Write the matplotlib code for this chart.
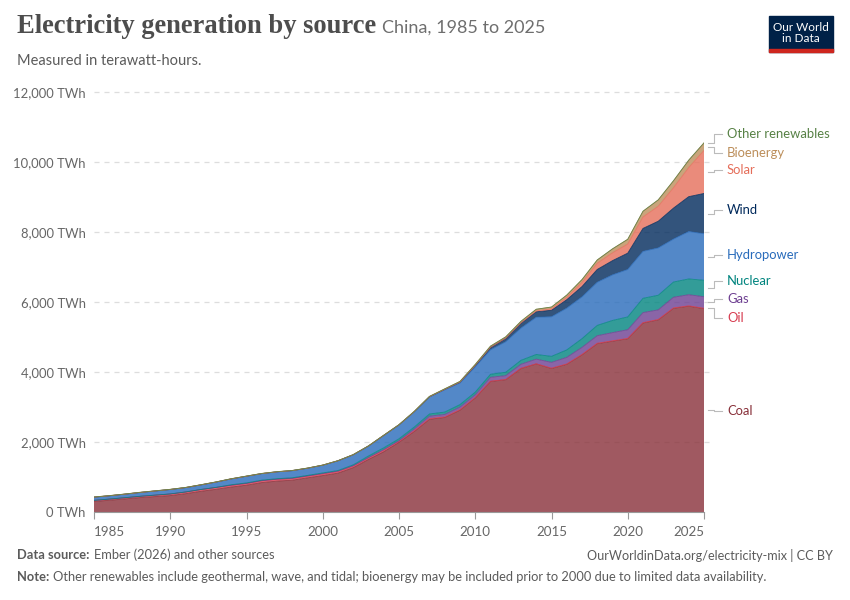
import numpy as np
import matplotlib.pyplot as plt
from matplotlib.patches import Rectangle

# data (TWh), China 1985-2025
years = list(range(1985, 2026))

coal = [300, 335, 372, 410, 440, 468, 522, 590, 648, 712, 765, 840, 882, 908, 975,
        1040, 1110, 1265, 1500, 1720, 1990, 2300, 2650, 2700, 2910, 3260, 3730, 3780,
        4100, 4230, 4100, 4220, 4490, 4810, 4880, 4950, 5400, 5490, 5820, 5880, 5810]
oil = [30, 32, 34, 36, 40, 45, 47, 50, 52, 50, 49, 51, 50, 48, 46,
       46, 44, 40, 38, 42, 24, 22, 20, 17, 15, 13, 8, 6,
       6, 5, 10, 10, 11, 12, 12, 11, 11, 11, 11, 11, 11]
gas = [2, 2, 2, 2, 2, 3, 3, 3, 3, 4, 4, 5, 6, 8, 10,
       13, 15, 18, 20, 22, 25, 50, 69, 70, 74, 77, 111, 110,
       116, 133, 166, 188, 203, 215, 233, 247, 287, 274, 305, 317, 330]
nuclear = [0, 0, 0, 0, 0, 0, 0, 0, 0, 13, 13, 14, 14, 14, 15,
           17, 17, 25, 43, 50, 53, 55, 62, 68, 70, 74, 86, 97,
           112, 133, 171, 213, 248, 295, 348, 366, 408, 418, 435, 451, 470]
hydro = [92, 94, 100, 109, 118, 127, 125, 131, 152, 167, 191, 187, 196, 204, 205,
         222, 277, 288, 284, 354, 397, 436, 486, 637, 616, 722, 699, 872,
         921, 1064, 1130, 1193, 1194, 1232, 1302, 1355, 1340, 1352, 1226, 1354, 1330]
wind = [0, 0, 0, 0, 0, 0, 0, 0, 0, 0, 0, 0, 0, 0, 0,
        1, 1, 1, 1, 1, 2, 4, 6, 13, 27, 45, 70, 96,
        141, 156, 186, 241, 295, 366, 406, 467, 656, 763, 886, 997, 1150]
solar = [0, 0, 0, 0, 0, 0, 0, 0, 0, 0, 0, 0, 0, 0, 0,
         0, 0, 0, 0, 0, 0, 0, 0, 0, 0, 1, 3, 4,
         8, 24, 40, 67, 118, 177, 225, 261, 327, 428, 584, 834, 1230]
bioenergy = [5, 5, 5, 5, 5, 5, 5, 5, 5, 5, 5, 5, 5, 5, 5,
             2, 3, 3, 4, 5, 5, 8, 11, 14, 20, 25, 32, 40,
             45, 48, 53, 65, 81, 94, 112, 135, 164, 182, 197, 208, 215]
other_renewables = [0.1] * 41

sources = ["Coal", "Oil", "Gas", "Nuclear", "Hydropower", "Wind", "Solar",
           "Bioenergy", "Other renewables"]
series = [coal, oil, gas, nuclear, hydro, wind, solar, bioenergy, other_renewables]
colors = ["#883039", "#D73C50", "#6D3E91", "#00847E", "#286BBB", "#00295B",
          "#E56E5A", "#BC8E5A", "#578145"]
# label y positions (layout only, TWh units)
label_y = [2890, 5540, 6085, 6600, 7345, 8630, 9770, 10255, 10800]

plt.rcParams['font.family'] = ['Lato', 'DejaVu Sans']
fig = plt.figure(figsize=(8.5, 6), dpi=100)
ax = fig.add_axes([94 / 850, 1 - 512 / 600, (704 - 94) / 850, (512 - 92) / 600])

data = np.array(series, dtype=float)
ax.stackplot(years, data, colors=colors, alpha=0.8, linewidth=0)
cum = np.cumsum(data, axis=0)
for i, c in enumerate(colors):
    ax.plot(years, cum[i], color=c, lw=0.6, alpha=0.85)

ax.set_xlim(1985, 2025)
ax.set_ylim(0, 12000)

for s in ["top", "right", "left"]:
    ax.spines[s].set_visible(False)
ax.spines["bottom"].set_color("#999999")
ax.spines["bottom"].set_linewidth(0.8)

yt = [0, 2000, 4000, 6000, 8000, 10000, 12000]
ax.set_yticks(yt)
ax.set_yticklabels([f"{v:,} TWh" for v in yt])
ax.tick_params(axis="y", length=0, pad=6, labelsize=9.4, labelcolor="#666666")
for v in yt[1:]:
    ax.axhline(v, color="#dddddd", lw=0.9, ls=(0, (4, 4)), zorder=0, xmax=1.01,
               clip_on=False)

xt = list(range(1985, 2026, 5))
ax.set_xticks(xt)
ax.set_xticklabels([str(v) for v in xt])
ax.tick_params(axis="x", length=5, color="#999999", pad=5, labelsize=9.6,
               labelcolor="#666666")
xl = ax.get_xticklabels()
xl[0].set_horizontalalignment("left")
xl[-1].set_horizontalalignment("right")

# right-side labels with connectors
mids = cum - data / 2
x0, xm, x1, xt_ = 2025.25, 2025.65, 2026.15, 2026.5
for i, name in enumerate(sources):
    ym = mids[i][-1]
    yl = label_y[i]
    ax.plot([x0, xm, xm, x1], [ym, ym, yl, yl], color="#bbbbbb", lw=0.8,
            clip_on=False)
    ax.text(xt_, yl, name, color=colors[i], fontsize=9.4, va="center", ha="left",
            clip_on=False)

renderer = fig.canvas.get_renderer()


def text_after(first, x, y, second, **kw):
    # place the second run of text right after the first one
    t = fig.text(x, y, first, **kw)
    bb = t.get_window_extent(renderer)
    kw2 = dict(kw)
    kw2.pop("weight", None)
    kw2.update(second.get("kw", {}))
    fig.text((bb.x1 + second.get("gap", 4)) / fig.bbox.width, y, second["s"], **kw2)


# title and subtitle
text_after("Electricity generation by source", 17 / 850, 1 - 33 / 600,
           {"s": "China, 1985 to 2025", "gap": 6,
            "kw": {"family": ["Lato", "DejaVu Sans"], "fontsize": 13,
                   "color": "#6e6e6e"}},
           family="Liberation Serif", weight="bold", fontsize=19.1,
           color="#4d4d4d", va="baseline")
fig.text(17 / 850, 1 - 61 / 600, "Measured in terawatt-hours.", fontsize=10.5,
         color="#5b5b5b", va="center")

# logo
fig.patches.append(Rectangle((769 / 850, 1 - 52 / 600), 64 / 850, 36 / 600,
                             transform=fig.transFigure, color="#002147"))
fig.patches.append(Rectangle((769 / 850, 1 - 52 / 600), 64 / 850, 3 / 600,
                             transform=fig.transFigure, color="#ce261e"))
fig.text(801 / 850, 1 - 33 / 600, "Our World\nin Data", color="white",
         fontsize=8.5, ha="center", va="center", linespacing=1.0)

# footer
foot = dict(fontsize=9.25, color="#5b5b5b", va="center")
text_after("Data source:", 17 / 850, 1 - 555 / 600,
           {"s": "Ember (2026) and other sources", "gap": 4}, weight="bold", **foot)
fig.text(833 / 850, 1 - 555 / 600, "OurWorldinData.org/electricity-mix | CC BY",
         ha="right", **dict(foot, fontsize=9.1))
text_after("Note:", 17 / 850, 1 - 577 / 600,
           {"s": "Other renewables include geothermal, wave, and tidal; bioenergy "
                 "may be included prior to 2000 due to limited data availability.",
            "gap": 4}, weight="bold", **foot)

fig.savefig("out.png", dpi=100)
